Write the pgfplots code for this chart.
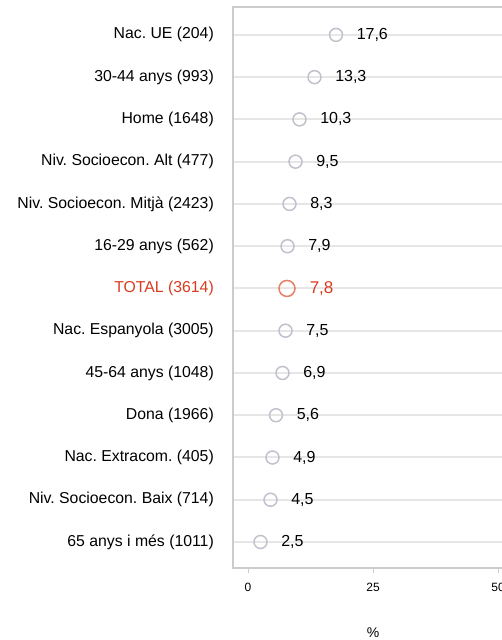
\documentclass[border=0pt]{standalone}
\usepackage{pgfplots}
\pgfplotsset{compat=1.18}
\usepackage{fontspec}
\setmainfont{Liberation Sans}
\frenchspacing
\definecolor{framegray}{HTML}{CCCCCC}
\definecolor{gridgray}{HTML}{E6E6E6}
\definecolor{markgray}{HTML}{C4BFCC}
\definecolor{totred}{HTML}{D93A1F}
\definecolor{totcirc}{HTML}{E87E66}
\begin{document}
\begin{tikzpicture}
\begin{axis}[
  at={(233pt,72pt)}, anchor=south west,
  scale only axis,
  width=280pt, height=561pt,
  xmin=-3, xmax=53,
  ymin=0.385, ymax=13.66,
  axis line style={draw=framegray, line width=1.8pt},
  /pgf/number format/assume math mode=true,
  xtick={0,25,50},
  xticklabels={0,25,50},
  xtick pos=bottom,
  tick align=outside,
  x tick style={draw=framegray, line width=1pt},
  major tick length=5pt,
  xticklabel style={font=\fontsize{12}{14}\selectfont, yshift=-7pt, text=black},
  ytick={1,...,13},
  yticklabels={65 anys i més (1011),Niv. Socioecon. Baix (714),Nac. Extracom. (405),Dona (1966),45-64 anys (1048),Nac. Espanyola (3005),\textcolor{totred}{TOTAL (3614)},16-29 anys (562),Niv. Socioecon. Mitjà (2423),Niv. Socioecon. Alt (477),Home (1648),30-44 anys (993),Nac. UE (204)},
  y tick style={draw=none},
  yticklabel style={font=\fontsize{15.8}{18}\selectfont, inner sep=0pt, xshift=-14pt, text=black},
  ymajorgrids,
  y grid style={draw=gridgray, line width=2pt},
  xlabel={\%},
  xlabel style={at={(axis description cs:0.5,0)}, anchor=center, yshift=-65pt, font=\fontsize{14}{16}\selectfont},
  nodes near coords,
  point meta=x,
  /pgf/number format/.cd, fixed, fixed zerofill, precision=1, use comma, /pgfplots/.cd,
  clip=false,
]
\addplot[only marks, mark=o, mark size=6.5pt, mark options={draw=markgray, line width=1.5pt},
  nodes near coords style={anchor=west, inner sep=0pt, xshift=20pt, font=\fontsize{16}{18}\selectfont, text=black}]
coordinates {
(17.6,13) (13.3,12) (10.3,11) (9.5,10) (8.3,9) (7.9,8) (7.5,6) (6.9,5) (5.6,4) (4.9,3) (4.5,2) (2.5,1)
};
\addplot[only marks, mark=o, mark size=8pt, mark options={draw=totcirc, line width=1.5pt},
  nodes near coords style={anchor=west, inner sep=0pt, xshift=22pt, font=\fontsize{17}{19}\selectfont, text=totred}]
coordinates {(7.8,7)};
\end{axis}
\pgfresetboundingbox
\useasboundingbox (0,0) rectangle (501pt,640pt);
\end{tikzpicture}
\end{document}
